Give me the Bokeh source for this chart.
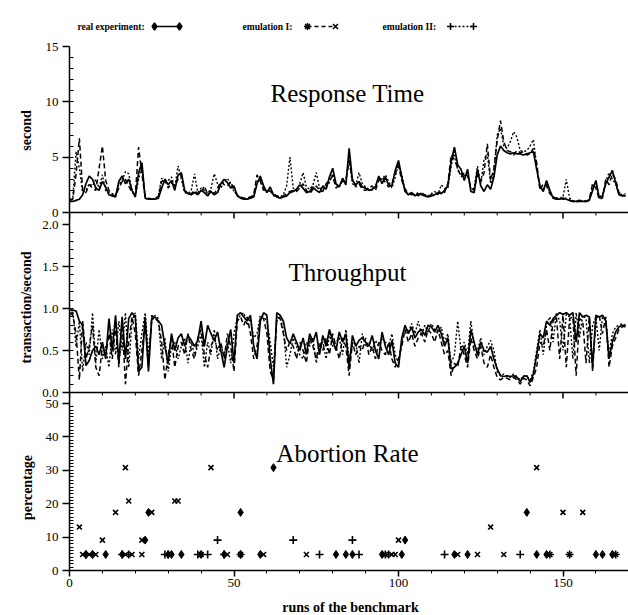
from math import pi
from bokeh.plotting import figure
from bokeh.layouts import column, row
from bokeh.models import Range1d, FixedTicker, Span, Label
from bokeh.core.properties import value
from bokeh.embed import file_html
from bokeh.resources import INLINE

# ---------------- data ----------------
runs = list(range(0, 170))

rt_real = [1.0, 1.0, 1.1, 1.2, 1.6, 2.6, 3.3, 3.0, 2.2, 2.0,
           2.8, 2.3, 1.6, 1.5, 1.4, 2.8, 3.3, 2.6, 3.0, 2.0,
           1.4, 3.6, 4.5, 1.3, 1.2, 1.2, 1.2, 1.3, 2.2, 3.0,
           2.5, 2.9, 2.0, 3.4, 3.6, 2.0, 1.7, 1.6, 1.8, 1.6,
           2.0, 1.8, 1.5, 1.9, 1.6, 1.8, 2.6, 3.0, 2.7, 2.2,
           2.4, 1.5, 1.3, 1.2, 1.2, 1.3, 1.4, 2.6, 3.3, 2.4,
           1.8, 2.3, 1.6, 1.4, 1.3, 1.4, 1.5, 1.8, 1.9, 2.1,
           2.5, 2.2, 1.8, 1.9, 2.3, 2.0, 1.8, 2.4, 2.1, 3.2,
           4.0, 2.6, 2.3, 3.1, 2.5, 5.8, 2.9, 2.5, 2.8, 2.3,
           2.2, 2.0, 2.1, 2.3, 3.3, 2.6, 3.2, 2.5, 2.4, 3.8,
           4.7, 3.2, 1.9, 1.6, 1.8, 1.5, 1.7, 1.6, 1.5, 1.4,
           1.5, 1.6, 1.8, 1.7, 2.0, 2.4, 4.6, 5.9, 4.3, 3.9,
           2.9, 3.9, 1.9, 1.8, 3.9, 2.4, 1.9, 2.5, 2.1, 3.2,
           5.2, 6.0, 5.6, 5.4, 5.3, 5.4, 5.3, 5.3, 5.2, 5.3,
           5.4, 5.5, 3.9, 2.4, 1.9, 2.9, 2.0, 1.3, 1.2, 1.2,
           1.3, 1.2, 1.1, 1.0, 1.0, 1.0, 1.0, 1.0, 1.1, 2.0,
           2.9, 1.3, 1.5, 2.6, 3.2, 3.8, 2.7, 1.6, 1.5, 1.5]

rt_emu1 = [1.1, 1.2, 3.5, 6.7, 2.0, 1.8, 2.5, 2.2, 2.0, 4.0,
           6.0, 2.9, 2.0, 1.6, 1.5, 2.2, 2.8, 3.0, 2.4, 1.8,
           1.6, 5.9, 3.5, 1.4, 1.3, 1.2, 1.3, 1.4, 2.8, 3.1,
           2.2, 2.7, 2.4, 3.0, 3.4, 1.9, 1.8, 1.7, 2.0, 1.7,
           1.8, 2.4, 1.6, 2.0, 1.7, 2.2, 2.8, 2.5, 2.4, 2.8,
           2.0, 1.6, 1.4, 1.3, 1.3, 1.4, 1.6, 3.4, 2.8, 2.0,
           2.1, 1.9, 1.7, 1.5, 1.4, 1.5, 1.7, 1.9, 2.0, 1.9,
           2.2, 2.6, 2.0, 1.7, 2.1, 2.4, 2.0, 1.9, 2.6, 2.9,
           3.3, 2.2, 2.5, 2.8, 2.9, 4.6, 3.0, 2.3, 2.6, 2.1,
           2.0, 2.2, 2.4, 2.0, 2.9, 3.2, 2.7, 2.3, 2.6, 3.5,
           4.2, 2.9, 2.1, 1.8, 1.6, 1.7, 1.5, 1.8, 1.6, 1.5,
           1.6, 1.5, 1.7, 1.9, 1.8, 2.6, 5.2, 4.8, 4.0, 3.2,
           3.6, 3.3, 2.2, 2.0, 3.4, 2.8, 3.6, 6.2, 2.9, 4.0,
           6.5, 8.3, 6.4, 5.6, 5.5, 5.2, 5.6, 5.4, 5.5, 5.2,
           5.3, 5.8, 4.5, 2.0, 2.6, 2.4, 1.7, 1.4, 1.3, 1.2,
           1.2, 1.3, 1.1, 1.0, 1.0, 1.1, 1.0, 1.0, 1.2, 2.6,
           2.2, 1.2, 1.3, 3.0, 2.5, 3.5, 3.0, 1.8, 1.6, 1.5]

rt_emu2 = [1.2, 1.3, 5.5, 4.0, 1.8, 2.0, 2.6, 2.4, 3.0, 2.2,
           3.4, 2.0, 1.8, 1.7, 1.6, 2.5, 2.9, 3.7, 3.5, 2.0,
           1.5, 3.0, 4.2, 1.3, 1.2, 1.3, 1.2, 1.5, 3.1, 2.6,
           2.9, 3.2, 2.3, 4.2, 3.0, 1.8, 1.7, 2.0, 3.5, 1.8,
           2.2, 2.0, 1.7, 2.2, 3.5, 2.6, 2.2, 2.8, 3.1, 2.5,
           1.9, 1.6, 1.3, 1.3, 1.2, 1.4, 1.5, 2.8, 3.0, 2.2,
           1.9, 2.0, 1.5, 1.5, 1.4, 1.6, 2.4, 5.0, 2.2, 2.0,
           2.6, 3.6, 2.3, 2.1, 2.5, 3.6, 2.2, 2.1, 2.3, 2.7,
           3.5, 2.4, 2.6, 2.7, 3.0, 4.8, 2.6, 2.4, 3.6, 2.6,
           2.3, 2.1, 2.0, 2.4, 3.0, 3.0, 3.4, 2.8, 2.2, 3.2,
           4.4, 3.4, 2.0, 1.7, 1.7, 1.6, 1.8, 1.7, 1.6, 1.5,
           1.7, 1.9, 1.6, 2.5, 2.2, 2.2, 4.2, 5.5, 3.8, 3.5,
           3.3, 3.6, 2.1, 2.2, 4.2, 2.6, 4.8, 5.3, 2.6, 3.6,
           7.0, 7.6, 6.0, 5.8, 6.4, 7.3, 6.8, 5.6, 5.5, 5.6,
           6.0, 6.6, 4.2, 2.3, 2.1, 2.6, 1.8, 1.4, 1.3, 1.3,
           1.4, 3.0, 1.3, 1.1, 1.0, 1.0, 1.1, 1.0, 1.1, 2.4,
           2.7, 1.4, 1.6, 2.8, 3.6, 3.0, 2.6, 1.7, 1.6, 1.7]

tp_real = [0.98, 0.98, 0.97, 0.85, 0.80, 0.32, 0.38, 0.50, 0.55, 0.45,
           0.60, 0.40, 0.88, 0.50, 0.92, 0.35, 0.90, 0.40, 0.88, 0.95,
           0.90, 0.25, 0.30, 0.90, 0.25, 0.88, 0.90, 0.85, 0.80, 0.55,
           0.35, 0.70, 0.50, 0.65, 0.70, 0.55, 0.68, 0.62, 0.55, 0.62,
           0.85, 0.55, 0.80, 0.70, 0.62, 0.72, 0.50, 0.30, 0.55, 0.75,
           0.35, 0.92, 0.95, 0.90, 0.85, 0.92, 0.55, 0.40, 0.85, 0.95,
           0.92, 0.40, 0.10, 0.95, 0.92, 0.85, 0.65, 0.58, 0.70, 0.60,
           0.50, 0.65, 0.45, 0.70, 0.60, 0.72, 0.45, 0.68, 0.55, 0.75,
           0.62, 0.50, 0.72, 0.60, 0.70, 0.30, 0.68, 0.55, 0.62, 0.65,
           0.60, 0.55, 0.68, 0.50, 0.40, 0.72, 0.55, 0.45, 0.62, 0.35,
           0.30, 0.65, 0.80, 0.70, 0.78, 0.65, 0.72, 0.75, 0.68, 0.80,
           0.78, 0.72, 0.80, 0.70, 0.55, 0.65, 0.28, 0.30, 0.35, 0.45,
           0.55, 0.35, 0.75, 0.60, 0.45, 0.60, 0.50, 0.48, 0.55, 0.40,
           0.28, 0.20, 0.19, 0.20, 0.19, 0.20, 0.18, 0.13, 0.19, 0.20,
           0.12, 0.22, 0.45, 0.70, 0.65, 0.85, 0.80, 0.88, 0.92, 0.95,
           0.93, 0.95, 0.92, 0.95, 0.60, 0.95, 0.90, 0.92, 0.90, 0.30,
           0.92, 0.90, 0.92, 0.85, 0.40, 0.60, 0.72, 0.78, 0.80, 0.78]

tp_emu1 = [0.95, 0.92, 0.70, 0.15, 0.85, 0.40, 0.55, 0.80, 0.30, 0.20,
           0.55, 0.45, 0.70, 0.40, 0.80, 0.30, 0.85, 0.10, 0.60, 0.90,
           0.70, 0.20, 0.50, 0.85, 0.30, 0.92, 0.88, 0.85, 0.60, 0.15,
           0.45, 0.65, 0.30, 0.55, 0.60, 0.45, 0.70, 0.50, 0.40, 0.65,
           0.75, 0.45, 0.30, 0.55, 0.65, 0.50, 0.60, 0.40, 0.70, 0.55,
           0.25, 0.85, 0.90, 0.80, 0.90, 0.70, 0.40, 0.55, 0.90, 0.88,
           0.70, 0.25, 0.15, 0.90, 0.88, 0.70, 0.50, 0.60, 0.55, 0.40,
           0.60, 0.50, 0.35, 0.65, 0.55, 0.40, 0.60, 0.50, 0.65, 0.45,
           0.70, 0.55, 0.40, 0.65, 0.55, 0.20, 0.60, 0.45, 0.55, 0.50,
           0.65, 0.45, 0.55, 0.40, 0.60, 0.50, 0.45, 0.60, 0.40, 0.30,
           0.40, 0.55, 0.75, 0.60, 0.70, 0.55, 0.65, 0.70, 0.60, 0.75,
           0.70, 0.60, 0.75, 0.60, 0.45, 0.50, 0.20, 0.35, 0.30, 0.55,
           0.45, 0.30, 0.65, 0.50, 0.40, 0.55, 0.35, 0.30, 0.45, 0.30,
           0.18, 0.15, 0.18, 0.17, 0.15, 0.18, 0.15, 0.10, 0.17, 0.15,
           0.08, 0.18, 0.30, 0.60, 0.55, 0.75, 0.50, 0.85, 0.90, 0.40,
           0.92, 0.30, 0.88, 0.90, 0.20, 0.88, 0.85, 0.35, 0.90, 0.25,
           0.88, 0.92, 0.70, 0.90, 0.30, 0.55, 0.65, 0.75, 0.78, 0.80]

tp_emu2 = [0.90, 0.97, 0.55, 0.85, 0.25, 0.60, 0.45, 0.95, 0.35, 0.75,
           0.40, 0.55, 0.30, 0.75, 0.45, 0.85, 0.50, 0.95, 0.30, 0.85,
           0.95, 0.40, 0.70, 0.95, 0.45, 0.85, 0.92, 0.88, 0.40, 0.65,
           0.25, 0.55, 0.60, 0.40, 0.55, 0.65, 0.35, 0.60, 0.45, 0.55,
           0.70, 0.30, 0.60, 0.45, 0.75, 0.40, 0.55, 0.45, 0.60, 0.35,
           0.70, 0.88, 0.92, 0.95, 0.80, 0.88, 0.65, 0.70, 0.92, 0.90,
           0.85, 0.60, 0.30, 0.85, 0.90, 0.75, 0.30, 0.45, 0.65, 0.55,
           0.45, 0.40, 0.60, 0.55, 0.65, 0.35, 0.55, 0.60, 0.40, 0.70,
           0.55, 0.60, 0.65, 0.45, 0.75, 0.40, 0.55, 0.60, 0.35, 0.70,
           0.55, 0.60, 0.50, 0.62, 0.55, 0.65, 0.60, 0.55, 0.70, 0.45,
           0.35, 0.60, 0.78, 0.72, 0.82, 0.70, 0.85, 0.68, 0.80, 0.72,
           0.82, 0.75, 0.70, 0.78, 0.60, 0.70, 0.35, 0.45, 0.85, 0.50,
           0.60, 0.45, 0.85, 0.55, 0.50, 0.65, 0.45, 0.55, 0.62, 0.50,
           0.25, 0.20, 0.22, 0.19, 0.18, 0.22, 0.19, 0.15, 0.20, 0.19,
           0.15, 0.25, 0.50, 0.75, 0.45, 0.80, 0.90, 0.60, 0.95, 0.85,
           0.50, 0.93, 0.90, 0.40, 0.95, 0.65, 0.92, 0.88, 0.35, 0.80,
           0.90, 0.50, 0.90, 0.88, 0.45, 0.70, 0.78, 0.80, 0.82, 0.80]

ab_real_run = [5, 7, 11, 16, 23, 24, 30, 31, 34, 40, 47, 52, 52, 58, 62,
               81, 84, 86, 95, 101, 102, 117, 121, 139, 142, 145, 160, 162, 165]
ab_real_pct = [4.8, 4.8, 4.8, 4.8, 9.1, 17.4, 4.8, 4.8, 4.8, 4.8, 4.8, 17.4, 4.8, 4.8, 30.8,
               4.8, 4.8, 4.8, 4.8, 4.8, 9.1, 4.8, 4.8, 17.4, 4.8, 4.8, 4.8, 4.8, 4.8]

ab_emu1_run = [3, 4, 6, 8, 10, 14, 17, 17, 18, 19, 22, 22, 25, 32, 33, 40, 43, 48, 52,
               59, 72, 96, 98, 99, 100, 118, 124, 128, 132, 142, 146, 150, 152, 156, 166]
ab_emu1_pct = [13.0, 4.8, 4.8, 4.8, 9.1, 17.4, 30.8, 4.8, 20.8, 4.8, 9.1, 4.8, 17.4, 20.8, 20.8,
               4.8, 30.8, 4.8, 4.8, 4.8, 4.8, 4.8, 4.8, 4.8, 9.1, 4.8, 4.8, 13.0, 4.8, 30.8,
               4.8, 17.4, 4.8, 17.4, 4.8]

ab_emu2_run = [5, 7, 16, 18, 29, 30, 39, 42, 45, 47, 52, 68, 76, 86, 88, 96, 97,
               114, 137, 146, 152, 166]
ab_emu2_pct = [4.8, 4.8, 4.8, 4.8, 4.8, 4.8, 4.8, 4.8, 9.1, 4.8, 4.8, 9.1, 4.8, 9.1, 4.8, 4.8, 4.8,
               4.8, 4.8, 4.8, 4.8, 4.8]

rt_ticks = [0, 5, 10, 15]
rt_tick_labels = ["0", "5", "10", "15"]
tp_ticks = [0.0, 0.5, 1.0, 1.5, 2.0]
tp_tick_labels = ["0.0", "0.5", "1.0", "1.5", "2.0"]
ab_ticks = [0, 10, 20, 30, 40, 50]
ab_tick_labels = ["0", "10", "20", "30", "40", "50"]
x_major_ticks = [0, 50, 100, 150]
x_minor_ticks = [10, 20, 30, 40, 60, 70, 80, 90, 110, 120, 130, 140, 160]

legend_names = ["real experiment:", "emulation I:", "emulation II:"]
panel_titles = ["Response Time", "Throughput", "Abortion Rate"]
y_titles = ["second", "transaction/second", "percentage"]
x_title = "runs of the benchmark"

# ---------------- layout (page pixels; the page has no margin) ----------------
PAGE_W, PAGE_H = 628, 615
YT_W = 36                       # strip holding the rotated y titles
FRAME_LEFT = 69                 # page x of the y axis
FRAME_BOTTOM = 570              # page y of the bottom x axis
MAIN_H = 596
MAIN_W = PAGE_W - YT_W
PX_PER_RUN = 3.29
X_END = (PAGE_W - FRAME_LEFT) / PX_PER_RUN


def m(page_y):
    """master coordinate (px above frame bottom) for a page y pixel"""
    return FRAME_BOTTOM - page_y


def xr(page_x):
    return (page_x - FRAME_LEFT) / PX_PER_RUN


panels = {
    "rt": (m(212), 166 / 15.0),
    "tp": (m(392), 168 / 2.0),
    "ab": (m(570), 167 / 50.0),
}

FONT = "Liberation Serif"

p = figure(width=MAIN_W, height=MAIN_H, x_range=Range1d(0, X_END),
           y_range=Range1d(0, FRAME_BOTTOM),
           output_backend="svg", toolbar_location=None,
           min_border_left=FRAME_LEFT - YT_W, min_border_right=0, min_border_top=0,
           min_border_bottom=MAIN_H - FRAME_BOTTOM)
p.outline_line_color = None
p.grid.visible = False
p.background_fill_color = "white"
p.border_fill_color = "white"

for name, (base, sc) in panels.items():
    p.extra_y_ranges[name] = Range1d(-base / sc, (FRAME_BOTTOM - base) / sc)

# ---- master left axis carrying the three panels' ticks ----
ticks, labels, minors = [], {}, []
for name, tv, tl, minor_step, top in [("rt", rt_ticks, rt_tick_labels, 1.0, 15),
                                      ("tp", tp_ticks, tp_tick_labels, 0.1, 2.0),
                                      ("ab", ab_ticks, ab_tick_labels, 1.0, 50)]:
    base, sc = panels[name]
    for v, lab in zip(tv, tl):
        pos = round(base + v * sc, 3)
        ticks.append(pos)
        labels[pos] = lab
    k = 1
    while k * minor_step < top - 1e-9:
        minors.append(round(base + k * minor_step * sc, 3))
        k += 1

ya = p.yaxis[0]
ya.ticker = FixedTicker(ticks=ticks, minor_ticks=minors)
ya.major_label_overrides = labels
ya.bounds = (0, max(ticks))
ya.axis_line_width = 1.5
ya.major_tick_line_width = 1.5
ya.major_tick_out = 7
ya.major_tick_in = 0
ya.minor_tick_out = 0
ya.minor_tick_in = 4
ya.minor_tick_line_width = 1
ya.major_label_standoff = 4
ya.major_label_text_font = FONT
ya.major_label_text_font_size = "13px"
ya.major_label_text_color = "black"

xa = p.xaxis[0]
xa.ticker = FixedTicker(ticks=x_major_ticks, minor_ticks=x_minor_ticks)
xa.axis_line_width = 1.5
xa.major_tick_line_width = 1.5
xa.major_tick_out = 6
xa.major_tick_in = 0
xa.minor_tick_out = 3
xa.minor_tick_in = 0
xa.major_label_standoff = 2
xa.major_label_text_font = FONT
xa.major_label_text_font_size = "13px"
xa.major_label_text_color = "black"

# ---- separators (x axes of the upper panels) ----
for name in ("rt", "tp"):
    base, sc = panels[name]
    p.add_layout(Span(location=0, dimension="width", y_range_name=name,
                      line_color="black", line_width=1.5))
    p.segment(x0=x_major_ticks, y0=[0] * len(x_major_ticks), x1=x_major_ticks,
              y1=[-6 / sc] * len(x_major_ticks), y_range_name=name,
              line_color="black", line_width=1.5)
    p.segment(x0=x_minor_ticks, y0=[0] * len(x_minor_ticks), x1=x_minor_ticks,
              y1=[-3 / sc] * len(x_minor_ticks), y_range_name=name,
              line_color="black", line_width=1)

# ---- response time ----
p.line(runs, rt_emu2, y_range_name="rt", line_color="black", line_width=1.4, line_dash="2 2")
p.line(runs, rt_emu1, y_range_name="rt", line_color="black", line_width=1.5, line_dash="5 3")
p.line(runs, rt_real, y_range_name="rt", line_color="black", line_width=1.7)

# ---- throughput ----
p.line(runs, tp_emu2, y_range_name="tp", line_color="black", line_width=1.4, line_dash="2 2")
p.line(runs, tp_emu1, y_range_name="tp", line_color="black", line_width=1.5, line_dash="5 3")
p.line(runs, tp_real, y_range_name="tp", line_color="black", line_width=1.7)

# ---- abortion rate ----
p.scatter(ab_emu2_run, ab_emu2_pct, y_range_name="ab", marker="cross", size=8,
          line_color="black", line_width=1.6)
p.scatter(ab_emu1_run, ab_emu1_pct, y_range_name="ab", marker="x", size=7,
          line_color="black", line_width=1.6)
p.scatter(ab_real_run, ab_real_pct, y_range_name="ab", marker="diamond", size=8,
          line_color="black", fill_color="black")

# ---- panel titles ----
title_y = {"rt": (212 - 93) / panels["rt"][1],
           "tp": (392 - 272) / panels["tp"][1],
           "ab": (570 - 453) / panels["ab"][1]}
for name, t in zip(("rt", "tp", "ab"), panel_titles):
    p.add_layout(Label(x=xr(347), y=title_y[name], y_range_name=name, text=t,
                       text_align="center", text_baseline="alphabetic",
                       text_font=FONT, text_font_size="25px", text_color="black"))

# ---- legend (label followed by a sample) ----
leg_y = m(26)
for t, px in zip(legend_names, (77, 242, 382)):
    p.add_layout(Label(x=xr(px), y=leg_y, text=t, text_align="left", text_baseline="middle",
                       text_font=FONT, text_font_size="9.5px", text_font_style="bold",
                       text_color="black"))
samples = [((154, 179), "solid", "diamond", "diamond"),
           ((307, 335), "4 3", "asterisk", "x"),
           ((450, 473), "2 2", "cross", "cross")]
for (a, b), dash, mk1, mk2 in samples:
    xs = [xr(a), xr(b)]
    p.line(xs, [leg_y, leg_y], line_color="black", line_width=1.5, line_dash=dash)
    p.scatter(xs[:1], [leg_y], marker=mk1, size=7, line_color="black", fill_color="black",
              line_width=1.5)
    p.scatter(xs[1:], [leg_y], marker=mk2, size=7, line_color="black", fill_color="black",
              line_width=1.5)

# ---- strip with the rotated y titles (frame aligned with the main frame) ----
yt = figure(width=YT_W, height=MAIN_H, x_range=Range1d(0, YT_W),
            y_range=Range1d(0, FRAME_BOTTOM),
            output_backend="svg", toolbar_location=None, x_axis_location=None,
            y_axis_location=None, min_border_left=0, min_border_right=0, min_border_top=0,
            min_border_bottom=MAIN_H - FRAME_BOTTOM)
yt.outline_line_color = None
yt.grid.visible = False
yt_x = [26, 26, 27]
yt_page_y = [130, 307, 487]
yt.text(x=yt_x, y=[FRAME_BOTTOM - v for v in yt_page_y], text=y_titles, angle=pi / 2,
        text_align="center", text_baseline="middle",
        text_font=value(FONT), text_font_size="14px", text_font_style="bold",
        text_color="black")

# ---- strip with the x title ----
XT_H = PAGE_H - MAIN_H
xt = figure(width=PAGE_W, height=XT_H, x_range=Range1d(0, PAGE_W), y_range=Range1d(0, XT_H),
            output_backend="svg", toolbar_location=None, x_axis_location=None,
            y_axis_location=None, min_border=0)
xt.outline_line_color = None
xt.grid.visible = False
xt.text(x=[350], y=[PAGE_H - 607], text=[x_title], text_align="center",
        text_baseline="middle", text_font=value(FONT), text_font_size="14px",
        text_font_style="bold", text_color="black")

layout = column(row(yt, p, spacing=0), xt, spacing=0)
open("out.html", "w").write(file_html(layout, INLINE))
